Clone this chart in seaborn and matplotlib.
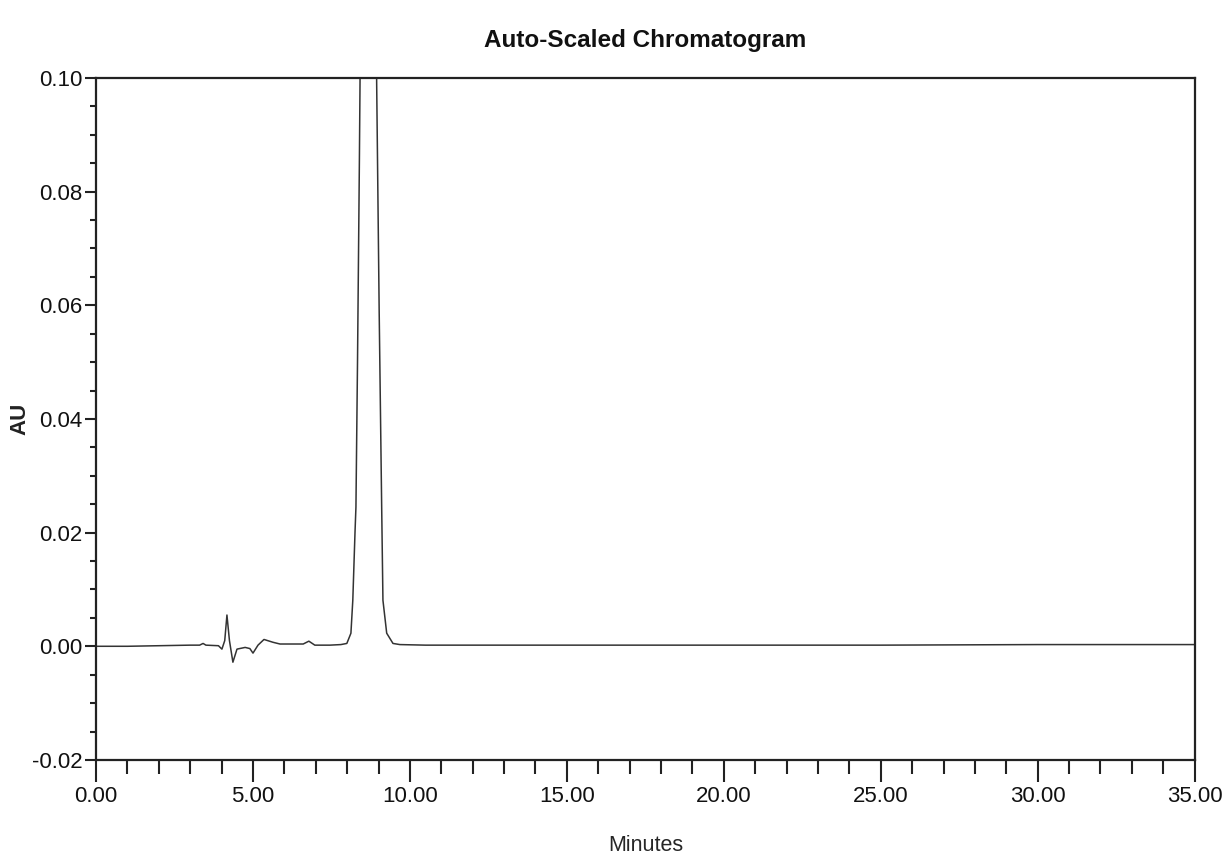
import matplotlib
matplotlib.use("Agg")
import matplotlib.pyplot as plt
import seaborn as sns
from matplotlib.ticker import MultipleLocator, FormatStrFormatter

# retention time (min) and absorbance (AU)
minutes = [0.00, 1.00, 2.00, 3.00, 3.30, 3.41, 3.50, 3.90, 4.01, 4.10, 4.17,
           4.25, 4.36, 4.49, 4.75, 4.90, 5.00, 5.16, 5.35, 5.64, 5.86, 6.20,
           6.60, 6.78, 6.97, 7.45, 7.80, 7.99, 8.12, 8.18, 8.25, 8.28, 8.33,
           8.39, 8.41, 8.50, 8.67, 8.85, 8.94, 9.02, 9.10, 9.14, 9.26, 9.46,
           9.68, 10.50, 12.00, 15.00, 20.00, 25.00, 30.00, 35.00]
au = [0.0000, 0.0000, 0.0001, 0.0002, 0.0002, 0.0005, 0.0002, 0.0001, -0.0005,
      0.0010, 0.0055, 0.0010, -0.0028, -0.0005, -0.0002, -0.0004, -0.0012,
      0.0002, 0.0012, 0.0007, 0.0004, 0.0004, 0.0004, 0.0009, 0.0002, 0.0002,
      0.0003, 0.0005, 0.0023, 0.0081, 0.0200, 0.0245, 0.0500, 0.0855, 0.0992,
      0.2000, 0.3300, 0.2000, 0.0992, 0.0590, 0.0245, 0.0081, 0.0023, 0.0005,
      0.0003, 0.0002, 0.0002, 0.0002, 0.0002, 0.0002, 0.0003, 0.0003]

sns.set_style("ticks")
plt.rcParams["font.family"] = ["Liberation Sans", "DejaVu Sans"]
plt.rcParams["text.color"] = "#111111"
plt.rcParams["xtick.color"] = "#222222"
plt.rcParams["ytick.color"] = "#222222"

fig = plt.figure(figsize=(12.22, 8.59), dpi=100)
ax = fig.add_axes([0.0786, 0.1153, 0.899, 0.794])

sns.lineplot(x=minutes, y=au, ax=ax, color="#333333", linewidth=1.1,
             sort=False, estimator=None)

ax.set_xlim(0, 35)
ax.set_ylim(-0.02, 0.10)
ax.xaxis.set_major_locator(MultipleLocator(5))
ax.xaxis.set_minor_locator(MultipleLocator(1))
ax.yaxis.set_major_locator(MultipleLocator(0.02))
ax.yaxis.set_minor_locator(MultipleLocator(0.005))
ax.xaxis.set_major_formatter(FormatStrFormatter("%.2f"))
ax.yaxis.set_major_formatter(FormatStrFormatter("%.2f"))

for s in ax.spines.values():
    s.set_visible(True)
    s.set_linewidth(1.6)
    s.set_color("#222222")

ax.tick_params(axis="x", which="major", direction="out", length=16, width=1.5,
               labelsize=16, pad=3, labelcolor="#111111")
ax.tick_params(axis="x", which="minor", direction="out", length=10, width=1.5)
ax.tick_params(axis="y", which="major", direction="out", length=8, width=1.5,
               labelsize=16, pad=1.5, labelcolor="#111111")
ax.tick_params(axis="y", which="minor", direction="out", length=4, width=1.5)

ax.set_title("Auto-Scaled Chromatogram", fontsize=17.5, fontweight="bold", pad=22)
ax.set_xlabel("Minutes", fontsize=15.5, labelpad=20)
ax.set_ylabel("AU", fontsize=16, fontweight="bold", color="#222222")
ax.yaxis.set_label_coords(-0.060, 0.5)

fig.savefig("out.png", dpi=100)
